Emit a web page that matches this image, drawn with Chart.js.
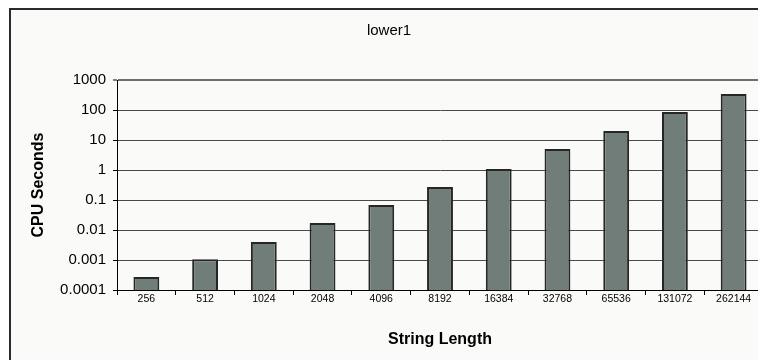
<!DOCTYPE html>
<html>
<head>
<meta charset="utf-8">
<script src="https://cdn.jsdelivr.net/npm/chart.js@4/dist/chart.umd.min.js"></script>
<style>
    html, body { margin: 0; padding: 0; background: #fff; overflow: hidden; }
    #wrap { position: relative; width: 758px; height: 360px; overflow: hidden; }
    #chart { position: absolute; left: 0; top: 0; }
</style>
</head>
<body>
<div id="wrap">
    <canvas id="chart" width="778" height="360"></canvas>
</div>
<script>
// Data
const stringLengths = ['256', '512', '1024', '2048', '4096', '8192', '16384', '32768', '65536', '131072', '262144'];
const cpuSeconds = [0.00027, 0.00105, 0.004, 0.017, 0.068, 0.27, 1.07, 5.0, 20, 85, 340];
const yTicks = [0.0001, 0.001, 0.01, 0.1, 1, 10, 100, 1000];

const FONT = 'Liberation Sans, Arial, sans-serif';

// chart frame: off-white panel with a dark border on the left and top
const framePlugin = {
    id: 'frame',
    beforeDraw(chart) {
        const c = chart.ctx;
        c.save();
        c.fillStyle = '#fff';
        c.fillRect(0, 0, chart.width, chart.height);
        c.fillStyle = '#fafaf8';
        c.fillRect(9, 8, chart.width, chart.height);
        c.fillStyle = '#2b2b2b';
        c.fillRect(9, 8, 2, chart.height);
        c.fillRect(9, 8, chart.width, 2);
        c.restore();
    }
};

const ctx = document.getElementById('chart').getContext('2d');

// canvas is a bit wider than the page so the plot runs off the right edge
new Chart(ctx, {
    type: 'bar',
    data: {
        labels: stringLengths,
        datasets: [{
            data: cpuSeconds,
            backgroundColor: '#717d79',
            borderColor: '#262626',
            borderWidth: 2,
            barPercentage: 0.44,
            categoryPercentage: 1
        }]
    },
    options: {
        responsive: false,
        animation: false,
        layout: { padding: { left: 15, right: 15, top: 0, bottom: 0 } },
        plugins: {
            legend: { display: false },
            tooltip: { enabled: false },
            title: {
                display: true,
                text: 'lower1',
                color: '#000',
                font: { family: FONT, size: 15, weight: 'normal' },
                padding: { top: 22, bottom: 40 }
            }
        },
        scales: {
            x: {
                grid: {
                    display: true,
                    drawOnChartArea: false,
                    drawTicks: true,
                    tickLength: 5,
                    tickColor: '#000',
                    tickWidth: 1
                },
                border: { display: true, color: '#000', width: 1 },
                ticks: {
                    color: '#000',
                    font: { family: FONT, size: 10.5 },
                    padding: -2,
                    autoSkip: false,
                    maxRotation: 0
                },
                title: {
                    display: true,
                    text: 'String Length',
                    color: '#000',
                    font: { family: FONT, size: 16, weight: 'bold' },
                    padding: { top: 0, bottom: 11 }
                },
                afterFit: (scale) => { scale.height = 70; }
            },
            y: {
                type: 'logarithmic',
                min: 0.0001,
                max: 1000,
                afterBuildTicks: (scale) => {
                    scale.ticks = yTicks.map(v => ({ value: v }));
                },
                grid: {
                    color: (c) => (c.tick && c.tick.value === 1000) ? '#6e6e6e' : '#4a4a4a',
                    lineWidth: (c) => (c.tick && c.tick.value === 1000) ? 2 : 1,
                    drawTicks: true,
                    tickLength: 4,
                    tickColor: '#000',
                    tickWidth: 1
                },
                border: { display: true, color: '#000', width: 1 },
                ticks: {
                    color: '#000',
                    font: { family: FONT, size: 15 },
                    padding: 7,
                    callback: (v) => String(v)
                },
                title: {
                    display: true,
                    text: 'CPU Seconds',
                    color: '#000',
                    font: { family: FONT, size: 16, weight: 'bold' },
                    padding: { top: 14, bottom: 0 }
                },
                afterFit: (scale) => { scale.width = 102; }
            }
        }
    },
    plugins: [framePlugin]
});
</script>
</body>
</html>
